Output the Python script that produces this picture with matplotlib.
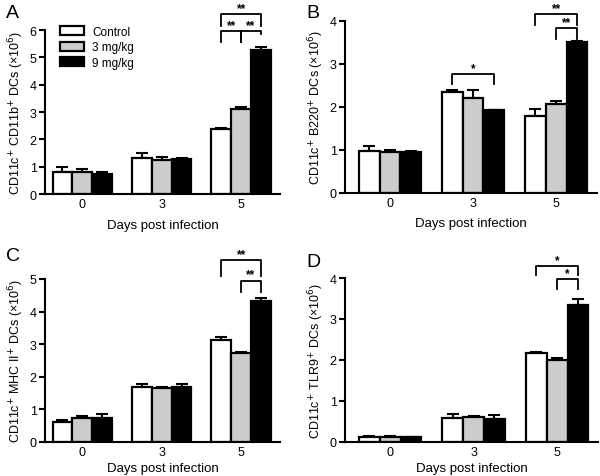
import matplotlib
matplotlib.use("Agg")
import matplotlib.pyplot as plt
from matplotlib.patches import Patch
import numpy as np

plt.rcParams['font.family'] = ['Liberation Sans', 'DejaVu Sans']

groups = ['0', '3', '5']
series = ['Control', '3 mg/kg', '9 mg/kg']
colors = ['white', '#cccccc', 'black']

# Panel A: CD11c+ CD11b+
a_ctrl = [0.80, 1.30, 2.38]
a_ctrl_err = [0.20, 0.20, 0.03]
a_3mg = [0.82, 1.25, 3.12]
a_3mg_err = [0.10, 0.12, 0.06]
a_9mg = [0.73, 1.27, 5.27]
a_9mg_err = [0.09, 0.03, 0.11]

# Panel B: CD11c+ B220+
b_ctrl = [0.97, 2.35, 1.78]
b_ctrl_err = [0.13, 0.05, 0.17]
b_3mg = [0.95, 2.20, 2.08]
b_3mg_err = [0.05, 0.20, 0.07]
b_9mg = [0.95, 1.93, 3.52]
b_9mg_err = [0.03, 0.00, 0.01]

# Panel C: CD11c+ MHC II+
c_ctrl = [0.60, 1.70, 3.12]
c_ctrl_err = [0.08, 0.08, 0.10]
c_3mg = [0.73, 1.65, 2.72]
c_3mg_err = [0.07, 0.05, 0.03]
c_9mg = [0.73, 1.68, 4.33]
c_9mg_err = [0.12, 0.10, 0.10]

# Panel D: CD11c+ TLR9+
d_ctrl = [0.13, 0.58, 2.17]
d_ctrl_err = [0.02, 0.10, 0.03]
d_3mg = [0.13, 0.60, 2.00]
d_3mg_err = [0.01, 0.04, 0.05]
d_9mg = [0.12, 0.57, 3.33]
d_9mg_err = [0.00, 0.09, 0.17]

W, H = 600, 477
fig = plt.figure(figsize=(W / 100, H / 100), dpi=100)


def px_axes(left, right, top, bottom):
    return fig.add_axes([left / W, 1 - bottom / H, (right - left) / W, (bottom - top) / H])


def draw_panel(ax, vals, errs, ymax, ylabel, xlim, brackets, letter, letter_pos, xlabelpad):
    x = np.arange(len(groups))
    bw = 0.25
    for i, (v, e) in enumerate(zip(vals, errs)):
        xs = x + (i - 1) * bw
        ax.errorbar(xs, v, yerr=[np.zeros(len(e)), e], fmt='none', ecolor='black',
                    elinewidth=1.5, capsize=4, capthick=1.5, zorder=1)
        ax.bar(xs, v, width=bw, color=colors[i], edgecolor='black', linewidth=1.6,
               zorder=2, label=series[i])
    ax.set_xlim(*xlim)
    ax.set_ylim(0, ymax)
    ax.set_yticks(np.arange(0, ymax + 0.5, 1))
    ax.set_xticks(x)
    ax.set_xticklabels(groups)
    ax.tick_params(axis='x', length=0, labelsize=9, pad=3)
    ax.tick_params(axis='y', length=4, width=1.5, labelsize=9, pad=2)
    for s in ['top', 'right']:
        ax.spines[s].set_visible(False)
    for s in ['left', 'bottom']:
        ax.spines[s].set_linewidth(1.5)
    ax.set_ylabel(ylabel, fontsize=9, labelpad=3)
    ax.set_xlabel('Days post infection', fontsize=9.5, labelpad=xlabelpad)
    for (g, i1, i2, ytop, yl1, yl2, lab) in brackets:
        x1 = g + (i1 - 1) * bw
        x2 = g + (i2 - 1) * bw
        ax.plot([x1, x1, x2, x2], [yl1, ytop, ytop, yl2], color='black', lw=1.3,
                clip_on=False, zorder=3)
        ax.text((x1 + x2) / 2, ytop, lab, ha='center', va='bottom', fontsize=8.5,
                fontweight='bold', clip_on=False)
    fig.text(letter_pos[0] / W, 1 - letter_pos[1] / H, letter, fontsize=14,
             ha='left', va='center')


axA = px_axes(45, 280, 31, 195)
draw_panel(axA, [a_ctrl, a_3mg, a_9mg], [a_ctrl_err, a_3mg_err, a_9mg_err], 6,
           'CD11c$^{+}$ CD11b$^{+}$ DCs (×10$^{6}$)', (-0.47, 2.49),
           [(2, 0, 2, 6.57, 6.16, 6.16, '**'), (2, 0, 1, 5.95, 5.55, 5.55, '**'),
            (2, 1, 2, 5.95, 5.55, 5.84, '**')], 'A', (6, 13), 6)
handles = [Patch(facecolor=c, edgecolor='black', linewidth=1.6) for c in colors]
axA.legend(handles, series, loc='upper left', bbox_to_anchor=(0.02, 1.09), frameon=False,
           fontsize=8.5, handlelength=2.0, handleheight=0.8, labelspacing=0.3,
           handletextpad=0.7)

axB = px_axes(345, 597, 22, 194)
draw_panel(axB, [b_ctrl, b_3mg, b_9mg], [b_ctrl_err, b_3mg_err, b_9mg_err], 4,
           'CD11c$^{+}$ B220$^{+}$ DCs (×10$^{6}$)', (-0.54, 2.49),
           [(1, 0, 2, 2.77, 2.53, 2.53, '*'), (2, 0, 2, 4.16, 3.91, 3.91, '**'),
            (2, 1, 2, 3.84, 3.58, 3.58, '**')], 'B', (306, 13), 6)

axC = px_axes(45, 280, 280, 443)
draw_panel(axC, [c_ctrl, c_3mg, c_9mg], [c_ctrl_err, c_3mg_err, c_9mg_err], 5,
           'CD11c$^{+}$ MHC II$^{+}$ DCs (×10$^{6}$)', (-0.47, 2.49),
           [(2, 0, 2, 5.57, 5.1, 5.1, '**'), (2, 1, 2, 4.95, 4.6, 4.6, '**')],
           'C', (6, 257), 2.5)

axD = px_axes(345, 598, 279, 443)
draw_panel(axD, [d_ctrl, d_3mg, d_9mg], [d_ctrl_err, d_3mg_err, d_9mg_err], 4,
           'CD11c$^{+}$ TLR9$^{+}$ DCs (×10$^{6}$)', (-0.54, 2.49),
           [(2, 0, 2, 4.3, 4.07, 4.07, '*'), (2, 1, 2, 3.97, 3.73, 3.73, '*')],
           'D', (306, 263), 2.5)

fig.savefig('out.png', dpi=100)
